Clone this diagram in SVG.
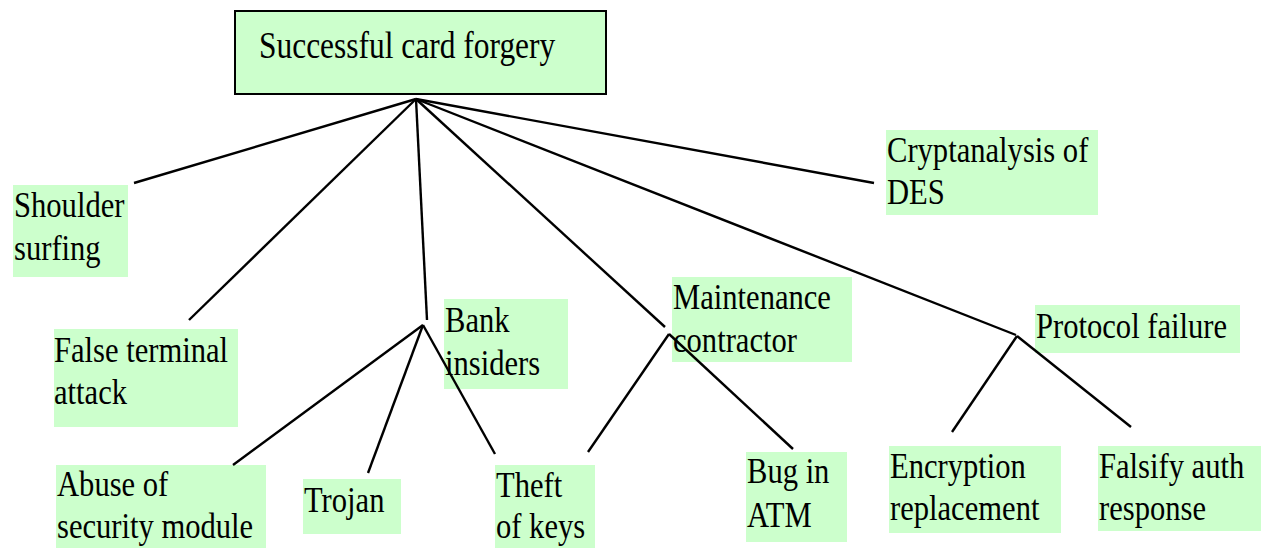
<svg xmlns="http://www.w3.org/2000/svg" width="1270" height="552" viewBox="0 0 1270 552">
<style>
.box{fill:#CCFFCC;stroke:none}
.root{fill:#CCFFCC;stroke:#000;stroke-width:2}
.c line{stroke:#000;stroke-width:2.4;stroke-linecap:butt}
</style>
<rect width="1270" height="552" fill="#fff"/>
<g id="root">
<rect class="root" x="235" y="11" width="371" height="83"/>
<text font-family="Liberation Serif" font-size="37" transform="translate(259,58) scale(0.85,1)">Successful card forgery</text>
</g>
<g id="shoulder">
<rect class="box" x="13" y="185" width="115" height="92"/>
<text font-family="Liberation Serif" font-size="36" transform="translate(14,217) scale(0.85,1)"><tspan x="0" y="0">Shoulder</tspan><tspan x="0" y="43">surfing</tspan></text>
</g>
<g id="false-terminal">
<rect class="box" x="54" y="329" width="184" height="98"/>
<text font-family="Liberation Serif" font-size="36" transform="translate(54,362) scale(0.85,1)"><tspan x="0" y="0">False terminal</tspan><tspan x="0" y="42">attack</tspan></text>
</g>
<g id="bank-insiders">
<rect class="box" x="444" y="299" width="124" height="90"/>
<text font-family="Liberation Serif" font-size="36" transform="translate(445,332) scale(0.85,1)"><tspan x="0" y="0">Bank</tspan><tspan x="0" y="43">insiders</tspan></text>
</g>
<g id="maintenance">
<rect class="box" x="672" y="277" width="180" height="85"/>
<text font-family="Liberation Serif" font-size="36" transform="translate(673,309) scale(0.85,1)"><tspan x="0" y="0">Maintenance</tspan><tspan x="0" y="43">contractor</tspan></text>
</g>
<g id="cryptanalysis">
<rect class="box" x="886" y="130" width="212" height="85"/>
<text font-family="Liberation Serif" font-size="36" transform="translate(887,162) scale(0.85,1)"><tspan x="0" y="0">Cryptanalysis of</tspan><tspan x="0" y="42">DES</tspan></text>
</g>
<g id="protocol-failure">
<rect class="box" x="1035" y="305" width="205" height="48"/>
<text font-family="Liberation Serif" font-size="36" transform="translate(1036,338) scale(0.85,1)">Protocol failure</text>
</g>
<g id="abuse">
<rect class="box" x="56" y="465" width="210" height="83"/>
<text font-family="Liberation Serif" font-size="36" transform="translate(57,496) scale(0.85,1)"><tspan x="0" y="0">Abuse of</tspan><tspan x="0" y="42">security module</tspan></text>
</g>
<g id="trojan">
<rect class="box" x="303" y="479" width="98" height="55"/>
<text font-family="Liberation Serif" font-size="36" transform="translate(304,512) scale(0.85,1)">Trojan</text>
</g>
<g id="theft-of-keys">
<rect class="box" x="495" y="465" width="100" height="83"/>
<text font-family="Liberation Serif" font-size="36" transform="translate(496,497) scale(0.85,1)"><tspan x="0" y="0">Theft</tspan><tspan x="0" y="41">of keys</tspan></text>
</g>
<g id="bug-in-atm">
<rect class="box" x="746" y="452" width="101" height="90"/>
<text font-family="Liberation Serif" font-size="36" transform="translate(747,483) scale(0.85,1)"><tspan x="0" y="0">Bug in</tspan><tspan x="0" y="44">ATM</tspan></text>
</g>
<g id="encryption-replacement">
<rect class="box" x="889" y="446" width="172" height="87"/>
<text font-family="Liberation Serif" font-size="36" transform="translate(890,478) scale(0.85,1)"><tspan x="0" y="0">Encryption</tspan><tspan x="0" y="42">replacement</tspan></text>
</g>
<g id="falsify-auth">
<rect class="box" x="1098" y="446" width="163" height="85"/>
<text font-family="Liberation Serif" font-size="36" transform="translate(1099,478) scale(0.85,1)"><tspan x="0" y="0">Falsify auth</tspan><tspan x="0" y="42">response</tspan></text>
</g>
<g class="c" id="connectors">
<line x1="416" y1="99" x2="134" y2="183"/>
<line x1="416" y1="99" x2="189" y2="320"/>
<line x1="416" y1="99" x2="427" y2="320"/>
<line x1="416" y1="99" x2="665" y2="327"/>
<line x1="416" y1="99" x2="874" y2="183"/>
<line x1="416" y1="99" x2="1016" y2="335"/>
<line x1="423" y1="325" x2="233" y2="465"/>
<line x1="423" y1="325" x2="368" y2="473"/>
<line x1="423" y1="325" x2="495" y2="454"/>
<line x1="669" y1="334" x2="588" y2="452"/>
<line x1="669" y1="334" x2="793" y2="449"/>
<line x1="1017" y1="336" x2="952" y2="432"/>
<line x1="1017" y1="336" x2="1131" y2="427"/>
</g>
</svg>
